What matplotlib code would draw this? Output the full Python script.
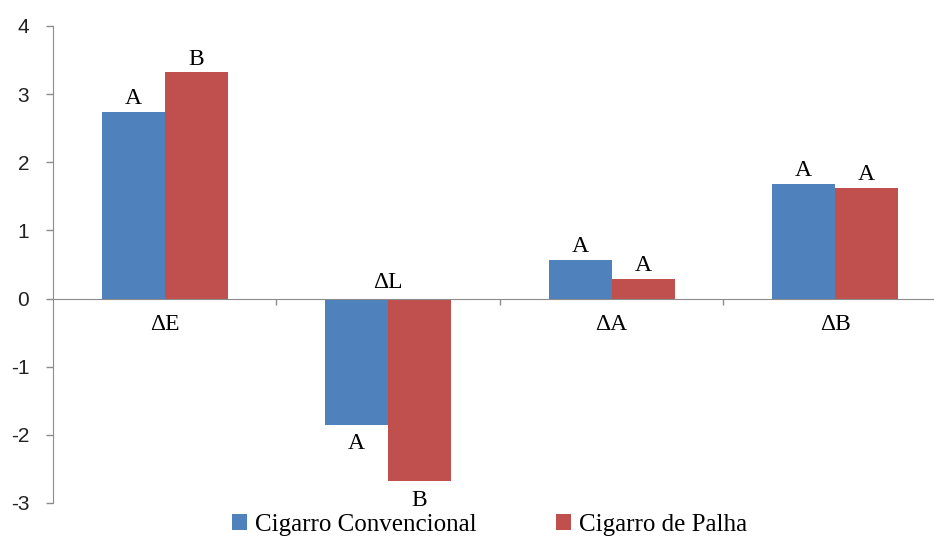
import numpy as np
import matplotlib
matplotlib.use("Agg")
import matplotlib.pyplot as plt

# --- data ---
categories = ["ΔE", "ΔL", "ΔA", "ΔB"]
series_names = ["Cigarro Convencional", "Cigarro de Palha"]
convencional = [2.74, -1.85, 0.57, 1.68]
palha = [3.32, -2.68, 0.29, 1.62]
letters_conv = ["A", "A", "A", "A"]
letters_palha = ["B", "B", "A", "A"]
yticks = [-3, -2, -1, 0, 1, 2, 3, 4]

BLUE = "#4F81BD"
RED = "#C0504D"
GRAY = "#8C8C8C"
SERIF = "Liberation Serif"

fig = plt.figure(figsize=(9.34, 5.38), dpi=100)
ax = fig.add_axes([0.0567, 0.0651, 0.957, 0.8866])

x = np.arange(len(categories))
w = 0.282
b1 = ax.bar(x - w / 2, convencional, w, color=BLUE, label=series_names[0], zorder=2)
b2 = ax.bar(x + w / 2, palha, w, color=RED, label=series_names[1], zorder=2)

ax.set_xlim(-0.5, len(categories) - 0.5)
ax.set_ylim(-3, 4)
ax.set_yticks(yticks)
ax.set_yticklabels([str(t) for t in yticks], fontsize=15, family="Liberation Sans", color="#222222")

# axes styling: left spine + zero line with category divider ticks
for s in ["top", "right"]:
    ax.spines[s].set_visible(False)
ax.spines["left"].set_color(GRAY)
ax.spines["bottom"].set_color(GRAY)
ax.spines["bottom"].set_position(("data", 0))
ax.tick_params(axis="y", colors=GRAY, length=5, width=1, labelcolor="#222222", pad=12)
ax.set_xticks(x[:-1] + 0.5)
ax.set_xticklabels([])
ax.tick_params(axis="x", colors=GRAY, length=4, width=1, direction="out")

# significance letters
def put_letter(bar, val, txt):
    cx = bar.get_x() + bar.get_width() / 2
    if val >= 0:
        ax.annotate(txt, (cx, val), xytext=(0, 2), textcoords="offset points",
                    ha="center", va="bottom", fontsize=17, family=SERIF)
    else:
        ax.annotate(txt, (cx, val), xytext=(0, -6), textcoords="offset points",
                    ha="center", va="top", fontsize=17, family=SERIF)

for bar, v, t in zip(b1, convencional, letters_conv):
    put_letter(bar, v, t)
for bar, v, t in zip(b2, palha, letters_palha):
    put_letter(bar, v, t)

# category labels sit at the zero line, on the side opposite the bars
for i, cat in enumerate(categories):
    if min(convencional[i], palha[i]) < 0:
        ax.annotate(cat, (i, 0), xytext=(0, 4), textcoords="offset points",
                    ha="center", va="bottom", fontsize=17, family=SERIF)
    else:
        ax.annotate(cat, (i, 0), xytext=(0, -11), textcoords="offset points",
                    ha="center", va="top", fontsize=17, family=SERIF)

fig.legend(handles=[b1, b2], labels=series_names, loc="center", ncol=2,
           bbox_to_anchor=(0.524, 0.024), frameon=False,
           prop={"family": SERIF, "size": 18}, handlelength=0.6, handleheight=0.6,
           handletextpad=0.3, columnspacing=3.2)

fig.savefig("out.png", dpi=100)
